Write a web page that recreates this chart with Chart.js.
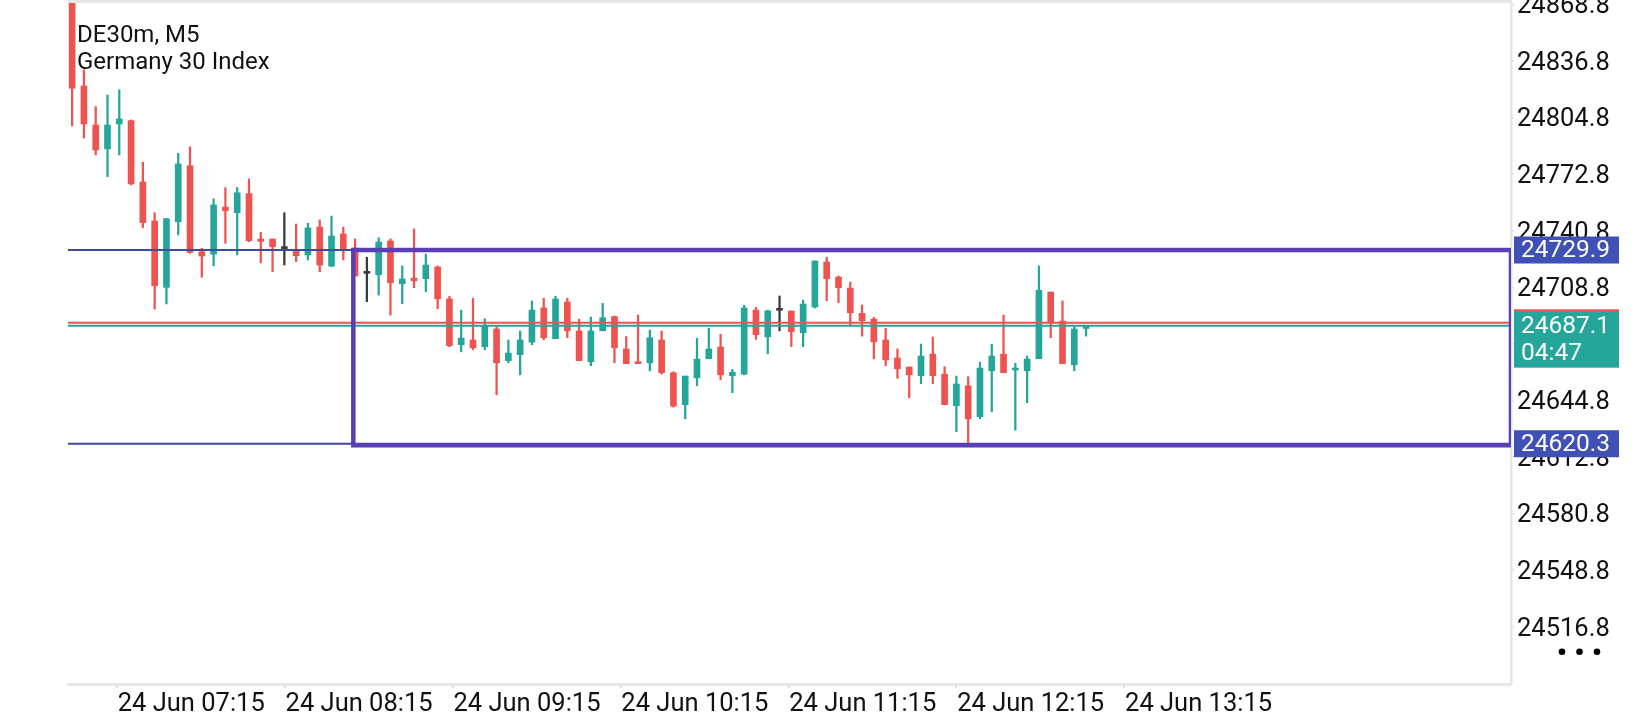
<!DOCTYPE html>
<html>
<head>
<meta charset="utf-8">
<script src="https://cdn.jsdelivr.net/npm/chart.js@4.4.1/dist/chart.umd.min.js"></script>
<style>
html,body{margin:0;padding:0;background:#fff;overflow:hidden}
#wrap{width:1640px;height:720px;position:relative}
</style>
</head>
<body>
<div id="wrap"><canvas id="c" width="1640" height="720"></canvas></div>
<script>
// ---------------- data ----------------
const SYMBOL = 'DE30m, M5';
const DESCRIPTION = 'Germany 30 Index';

const OPEN = [24869.7,24822.7,24800.6,24787.1,24801.2,24803.1,24768.4,24746.3,24708.8,24745.9,
  24777.6,24728.9,24727.6,24754.2,24751.0,24761.8,24736.1,24736.1,24730.7,24729.5,
  24727.1,24742.9,24720.8,24739.0,24731.0,24716.7,24715.9,24735.0,24710.8,24714.0,
  24713.7,24720.3,24702.2,24676.3,24679.0,24675.2,24685.2,24667.3,24670.7,24677.8,
  24697.1,24679.7,24700.5,24684.1,24666.7,24684.2,24692.2,24673.9,24666.6,24666.1,
  24679.0,24660.5,24642.4,24657.6,24668.4,24675.0,24658.8,24659.7,24695.9,24680.8,
  24695.8,24695.4,24683.1,24697.7,24723.1,24714.6,24708.4,24694.1,24690.8,24679.0,
  24668.8,24663.7,24658.8,24671.0,24659.7,24641.8,24653.1,24635.6,24661.6,24671.0,
  24662.0,24661.6,24668.4,24706.1,24689.7,24665.0,24685.5];
const HIGH = [24875.0,24831.8,24811.0,24817.6,24820.5,24803.5,24779.5,24751.0,24747.8,24784.6,
  24788.2,24730.9,24758.8,24765.2,24765.2,24770.1,24739.9,24736.1,24751.0,24744.6,
  24745.0,24746.9,24749.1,24742.8,24736.2,24725.8,24736.9,24736.2,24720.9,24741.8,
  24727.6,24720.9,24703.7,24695.9,24702.6,24691.0,24686.5,24679.0,24684.1,24701.1,
  24702.6,24703.7,24702.6,24690.8,24692.0,24699.7,24692.6,24680.9,24693.1,24684.6,
  24684.1,24661.0,24658.6,24679.9,24685.6,24682.2,24662.4,24698.6,24697.5,24695.9,
  24703.9,24695.4,24701.6,24723.7,24725.8,24715.2,24711.8,24698.8,24691.8,24685.6,
  24673.9,24663.7,24676.7,24680.7,24663.9,24658.6,24658.2,24666.5,24676.6,24693.1,
  24665.8,24669.9,24720.9,24706.1,24701.1,24686.5,24687.3];
const LOW = [24800.1,24793.3,24783.7,24771.4,24783.7,24766.7,24742.5,24696.4,24699.4,24738.4,
  24728.0,24714.5,24721.0,24733.7,24727.1,24734.6,24722.7,24717.6,24721.4,24723.3,
  24724.3,24717.6,24720.4,24724.3,24715.2,24700.7,24704.4,24693.1,24699.5,24708.6,
  24706.3,24696.7,24675.2,24672.3,24673.5,24673.5,24648.0,24666.1,24659.3,24676.3,
  24679.1,24679.7,24680.3,24667.3,24664.4,24684.2,24666.1,24665.6,24665.6,24661.6,
  24659.7,24641.0,24634.4,24653.1,24668.4,24656.5,24649.2,24659.3,24679.4,24671.2,
  24684.2,24675.2,24675.2,24697.1,24701.2,24700.1,24686.9,24681.2,24668.4,24664.4,
  24657.3,24646.3,24654.3,24654.3,24642.4,24627.1,24620.3,24634.4,24638.4,24660.5,
  24628.0,24643.5,24668.4,24680.3,24665.6,24661.6,24681.2];
const CLOSE = [24821.4,24801.2,24786.5,24800.6,24804.0,24767.3,24745.4,24709.7,24747.6,24778.6,
  24728.6,24726.5,24755.4,24752.1,24762.3,24735.2,24734.8,24731.8,24730.7,24726.7,
  24742.4,24721.4,24737.8,24730.3,24715.2,24716.7,24734.4,24711.4,24713.5,24712.5,
  24721.4,24702.3,24675.8,24680.1,24674.6,24686.9,24666.1,24671.6,24679.0,24695.9,
  24680.3,24702.2,24684.2,24667.3,24684.1,24691.6,24674.6,24665.6,24665.6,24680.3,
  24660.5,24641.6,24658.6,24668.2,24673.9,24659.3,24660.7,24697.1,24682.0,24695.5,
  24695.8,24683.7,24699.3,24723.7,24713.7,24708.6,24694.4,24689.9,24678.0,24667.8,
  24662.7,24659.3,24669.9,24658.8,24642.4,24654.1,24634.4,24663.1,24669.9,24660.5,
  24662.6,24668.2,24707.1,24688.8,24665.6,24685.2,24687.1];

const TIME_LABELS = ['24 Jun 07:15','24 Jun 08:15','24 Jun 09:15','24 Jun 10:15','24 Jun 11:15','24 Jun 12:15','24 Jun 13:15'];
const TIME_TICK_POS = [3.78, 18.02, 32.26, 46.50, 60.74, 74.98, 89.22];   // in bar-index units
const PRICE_TICKS = [24868.8,24836.8,24804.8,24772.8,24740.8,24708.8,24676.8,24644.8,24612.8,24580.8,24548.8,24516.8];

const LEVELS = [24729.9, 24620.3];          // horizontal levels / rectangle top & bottom
const RECT_START = 23.85;                   // rectangle left edge, bar-index units
const BID = 24687.1;
const ASK = 24688.8;
const COUNTDOWN = '04:47';

// axis ranges
const X_MIN = -0.35, X_MAX = 122.04;
const Y_MIN = 24484.4, Y_MAX = 24870.2;

// ---------------- styles ----------------
const UP = '#26a69a', DOWN = '#ef5350', DOJI = '#3a3a3a';
const AXIS_FONT = {family: 'Roboto', size: 25.5};

const idx = OPEN.map((_, i) => i);
const colors = idx.map(i => CLOSE[i] > OPEN[i] ? UP : (CLOSE[i] < OPEN[i] ? DOWN : DOJI));
const wicks = idx.map(i => ({x: i, y: [LOW[i], HIGH[i]]}));
const bodies = idx.map(i => ({x: i, y: [OPEN[i], CLOSE[i]]}));

function hline(ctx, x0, x1, y) { ctx.beginPath(); ctx.moveTo(x0, y); ctx.lineTo(x1, y); ctx.stroke(); }

const overlay = {
  id: 'overlay',
  afterDatasetsDraw(chart) {
    const {ctx, chartArea: a, scales: {x, y}} = chart;
    ctx.save();
    ctx.beginPath(); ctx.rect(a.left, a.top, a.right - a.left, a.bottom - a.top); ctx.clip();
    // level lines
    ctx.strokeStyle = '#3d4a9e'; ctx.lineWidth = 2;
    LEVELS.forEach(v => hline(ctx, a.left, a.right, y.getPixelForValue(v)));
    // ask / bid
    ctx.strokeStyle = DOWN; ctx.lineWidth = 2;
    hline(ctx, a.left, a.right, y.getPixelForValue(ASK));
    ctx.strokeStyle = UP;
    hline(ctx, a.left, a.right, y.getPixelForValue(BID));
    // rectangle
    const x0 = x.getPixelForValue(RECT_START);
    const yT = y.getPixelForValue(LEVELS[0]), yB = y.getPixelForValue(LEVELS[1]) + 1.5;
    ctx.strokeStyle = '#5a3fb4'; ctx.lineWidth = 4.5;
    ctx.strokeRect(x0, yT, a.right - x0, yB - yT);
    ctx.restore();
    // title
    ctx.save();
    ctx.fillStyle = '#111';
    ctx.font = '24px Roboto';
    ctx.textBaseline = 'middle'; ctx.textAlign = 'left';
    ctx.fillText(SYMBOL, a.left + 9, 36);
    ctx.fillText(DESCRIPTION, a.left + 9, 63);
    ctx.restore();
  },
  afterDraw(chart) {
    const {ctx, chartArea: a, scales: {y}} = chart;
    ctx.save();
    // top frame line
    ctx.strokeStyle = '#e6e6e6'; ctx.lineWidth = 3;
    hline(ctx, a.left, a.right + 1, 1.5);
    const bx = y.left + 3, bw = 105;
    ctx.font = '24.5px Roboto'; ctx.textBaseline = 'middle'; ctx.textAlign = 'left';
    // level labels
    LEVELS.forEach(v => {
      const py = y.getPixelForValue(v);
      ctx.fillStyle = '#3f51b5'; ctx.fillRect(bx, py - 13.5, bw, 27);
      ctx.fillStyle = '#fff'; ctx.fillText(v.toFixed(1), bx + 7, py + 1);
    });
    // ask (behind) and bid labels
    const pa = y.getPixelForValue(ASK), pb = y.getPixelForValue(BID);
    ctx.fillStyle = DOWN; ctx.fillRect(bx, pa - 13.4, bw, 27);
    ctx.fillStyle = UP; ctx.fillRect(bx, pb - 14, bw, 56);
    ctx.fillStyle = '#fff';
    ctx.fillText(BID.toFixed(1), bx + 7, pb + 1.5);
    ctx.fillText(COUNTDOWN, bx + 7, pb + 28);
    // menu dots
    ctx.fillStyle = '#000';
    [51, 68.5, 86].forEach(dx => { ctx.beginPath(); ctx.arc(y.left + dx, 651.7, 3.3, 0, Math.PI * 2); ctx.fill(); });
    ctx.restore();
  }
};

new Chart(document.getElementById('c'), {
  type: 'bar',
  data: {
    datasets: [
      {data: wicks, backgroundColor: colors, barThickness: 1.6, grouped: false, borderWidth: 0, clip: 0, order: 2},
      {data: bodies, backgroundColor: colors, barThickness: 6, grouped: false, borderWidth: 0, minBarLength: 2, clip: 0, order: 1}
    ]
  },
  options: {
    responsive: false, animation: false, devicePixelRatio: 1,
    layout: {padding: {left: 68, top: 2, right: 0, bottom: 0}},
    plugins: {legend: {display: false}, tooltip: {enabled: false}, title: {display: false}},
    scales: {
      x: {
        type: 'linear', position: 'bottom', min: X_MIN, max: X_MAX, offset: false,
        afterBuildTicks: s => { s.ticks = TIME_TICK_POS.map(v => ({value: v})); },
        afterFit: s => { s.height = 36; s.paddingLeft = 0; s.paddingRight = 0; },
        grid: {offset: false, drawOnChartArea: false, drawTicks: true, tickLength: 4, color: '#d6d6d6', lineWidth: 1.5},
        border: {display: true, color: '#e6e6e6', width: 3},
        ticks: {autoSkip: false, maxRotation: 0, minRotation: 0, align: 'start', padding: 1, labelOffset: 1,
          color: '#111', font: AXIS_FONT, callback: (v, i) => TIME_LABELS[i]}
      },
      y: {
        type: 'linear', position: 'right', min: Y_MIN, max: Y_MAX,
        afterBuildTicks: s => { s.ticks = PRICE_TICKS.map(v => ({value: v})); },
        afterFit: s => { s.width = 129; s.paddingTop = 0; s.paddingBottom = 0; },
        grid: {drawOnChartArea: false, drawTicks: true, tickLength: 3, color: '#d6d6d6', lineWidth: 1.5},
        border: {display: true, color: '#e6e6e6', width: 2.5},
        ticks: {padding: 3, labelOffset: 2.5, color: '#111', font: AXIS_FONT, callback: v => Number(v).toFixed(1)}
      }
    }
  },
  plugins: [overlay]
});
</script>
</body>
</html>
